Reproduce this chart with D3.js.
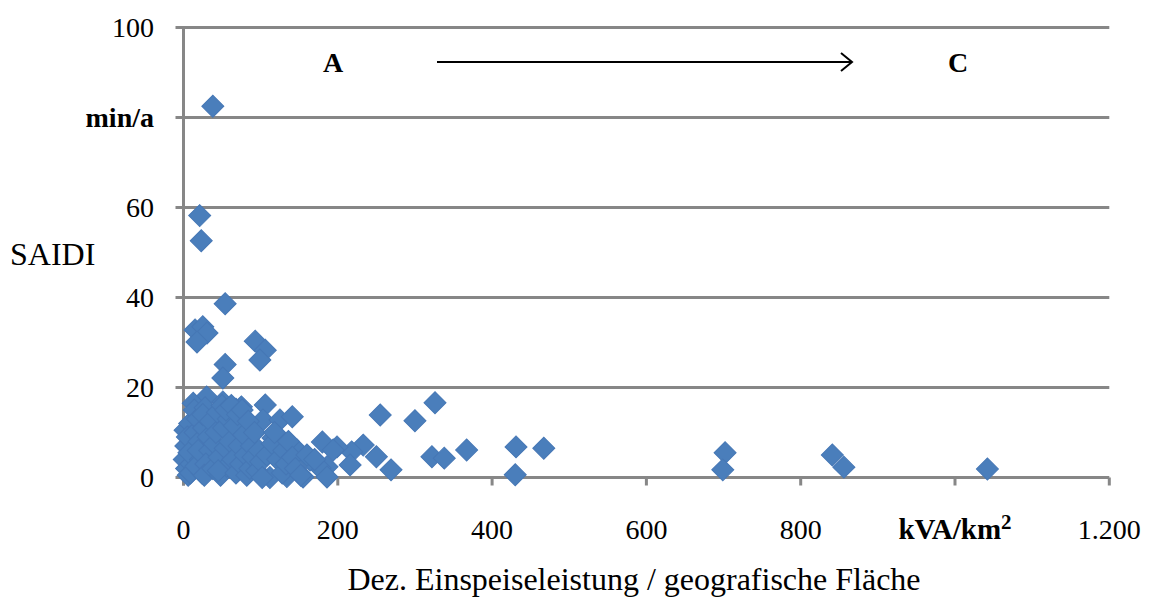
<!DOCTYPE html>
<html>
<head>
<meta charset="utf-8">
<script src="https://cdn.jsdelivr.net/npm/d3@7"></script>
<style>
  body { margin: 0; background: #fff; }
  svg text { font-family: "Liberation Serif", "Times New Roman", serif; fill: #000; }
</style>
</head>
<body>
<svg id="chart" width="1149" height="599"></svg>
<script>
// Decentral feed-in capacity per geographic area (kVA/km²) per grid operator
const density = [
  38, 21, 23, 54, 15, 25, 30.5, 17.5, 93, 106, 99, 54, 51,
  326, 255, 300, 322, 338, 367, 431, 430, 467, 269, 250, 233, 218, 216, 199, 180, 194, 186, 177, 186,
  702, 699, 841, 856, 1042,
  106, 103, 125, 141, 116, 131, 147, 164, 155, 134, 112,
  30, 51, 75, 12.6, 68,
  2, 3, 1, 4, 6, 8, 5, 10, 12, 9, 14, 7,
  15, 18, 20, 22, 24, 26, 28, 16, 19, 25, 32, 34, 29, 27, 35,
  38, 40, 42, 44, 46, 48, 50, 52, 54, 56, 58, 60, 45, 55, 62,
  64, 66, 68, 70, 72, 74, 76, 78, 80, 82, 84, 86, 88, 90, 92, 95, 98, 100, 102,
  108, 115, 118, 122, 128, 130, 133, 136, 141, 145, 152, 160, 170
];
// SAIDI in min/a for the same operators
const saidi = [
  82.5, 58.2, 52.6, 38.6, 32.8, 33.5, 32.1, 30.1, 30.3, 28.3, 26.1, 25.1, 22.1,
  16.6, 13.9, 12.6, 4.6, 4.3, 6.1, 6.8, 0.6, 6.5, 1.7, 4.6, 7.2, 5.7, 2.8, 6.8, 7.9, 6.1, 2.4, 2.1, 0.1,
  5.5, 1.7, 5.0, 2.3, 1.9,
  16.1, 12.8, 12.8, 13.5, 8.8, 7.7, 6.1, 3.9, 0.1, 0.2, 0.0,
  17.9, 16.8, 15.7, 16.5, 15.2,
  10.5, 7, 4, 2, 0.5, 12, 9, 3, 6, 1, 15, 5.5,
  10, 13, 8, 4, 1, 11, 15.5, 2.5, 6, 14, 9, 6, 3, 0.5, 12.5,
  2, 7.5, 10, 14.5, 4.5, 0.5, 16, 11, 6.5, 2.5, 13, 8, 1.5, 15, 16,
  4, 11.5, 1, 14, 7, 3, 15, 9.5, 5, 0.5, 12.5, 2, 7, 4.5, 10, 1.5, 6, 3.5, 0,
  5, 7.5, 10, 4, 1, 6, 3, 8, 4.5, 2, 0.5, 5, 4
];

const xTicks = [0, 200, 400, 600, 800, 1000, 1200];
const xTickLabels = ["0", "200", "400", "600", "800", "kVA/km", "1.200"];
const yTicks = [0, 20, 40, 60, 80, 100];
const yTickLabels = ["0", "20", "40", "60", "min/a", "100"];

const svg = d3.select("#chart");
const x = d3.scaleLinear().domain([0, 1200]).range([183.5, 1109.3]);
const y = d3.scaleLinear().domain([0, 100]).range([477.5, 27.5]);
const grey = "#878787";
const fontSize = 28;
const titleSize = 32;

// horizontal gridlines (extend left past the axis as tick marks)
svg.append("g").selectAll("line").data(yTicks).join("line")
  .attr("x1", x(0) - 8).attr("x2", x(1200))
  .attr("y1", d => y(d)).attr("y2", d => y(d))
  .attr("stroke", grey).attr("stroke-width", 3);

// y axis line
svg.append("line")
  .attr("x1", x(0)).attr("x2", x(0))
  .attr("y1", y(100) - 1.5).attr("y2", y(0) + 8)
  .attr("stroke", grey).attr("stroke-width", 3);

// x tick marks
svg.append("g").selectAll("line").data(xTicks).join("line")
  .attr("x1", d => x(d)).attr("x2", d => x(d))
  .attr("y1", y(0)).attr("y2", y(0) + 8)
  .attr("stroke", grey).attr("stroke-width", 3);

// y tick labels
svg.append("g").selectAll("text").data(yTicks).join("text")
  .attr("x", 154).attr("y", d => y(d))
  .attr("dy", "0.35em")
  .attr("text-anchor", "end")
  .attr("font-size", fontSize)
  .attr("font-weight", (d, i) => yTickLabels[i] === "min/a" ? "bold" : "normal")
  .text((d, i) => yTickLabels[i]);

// x tick labels
const xl = svg.append("g").selectAll("text").data(xTicks).join("text")
  .attr("x", d => x(d)).attr("y", 539)
  .attr("text-anchor", "middle")
  .attr("font-size", fontSize)
  .attr("font-weight", (d, i) => xTickLabels[i] === "kVA/km" ? "bold" : "normal")
  .text((d, i) => xTickLabels[i]);
xl.filter((d, i) => xTickLabels[i] === "kVA/km")
  .attr("font-size", 29)
  .append("tspan").attr("dy", -10).attr("font-size", 21).text("2");

// axis titles
svg.append("text").attr("x", 10).attr("y", 265)
  .attr("font-size", titleSize).text("SAIDI");
svg.append("text").attr("x", 634).attr("y", 590)
  .attr("text-anchor", "middle")
  .attr("font-size", titleSize).text("Dez. Einspeiseleistung / geografische Fläche");

// category annotation A → C
svg.append("text").attr("x", 333).attr("y", 72)
  .attr("text-anchor", "middle").attr("font-weight", "bold")
  .attr("font-size", fontSize).text("A");
svg.append("text").attr("x", 958).attr("y", 72)
  .attr("text-anchor", "middle").attr("font-weight", "bold")
  .attr("font-size", fontSize).text("C");
svg.append("path")
  .attr("d", "M437,62H852M841,53L852,62L841,71")
  .attr("fill", "none").attr("stroke", "#000").attr("stroke-width", 2);

// scatter markers
const diamond = d3.symbol().type(d3.symbolSquare).size(242);
svg.append("g").selectAll("path").data(density.map((d, i) => [d, saidi[i]])).join("path")
  .attr("d", diamond)
  .attr("transform", d => `translate(${x(d[0])},${y(d[1])}) rotate(45)`)
  .attr("fill", "#4a7ebb")
  .attr("stroke", "#4677b5").attr("stroke-width", 1);
</script>
</body>
</html>
